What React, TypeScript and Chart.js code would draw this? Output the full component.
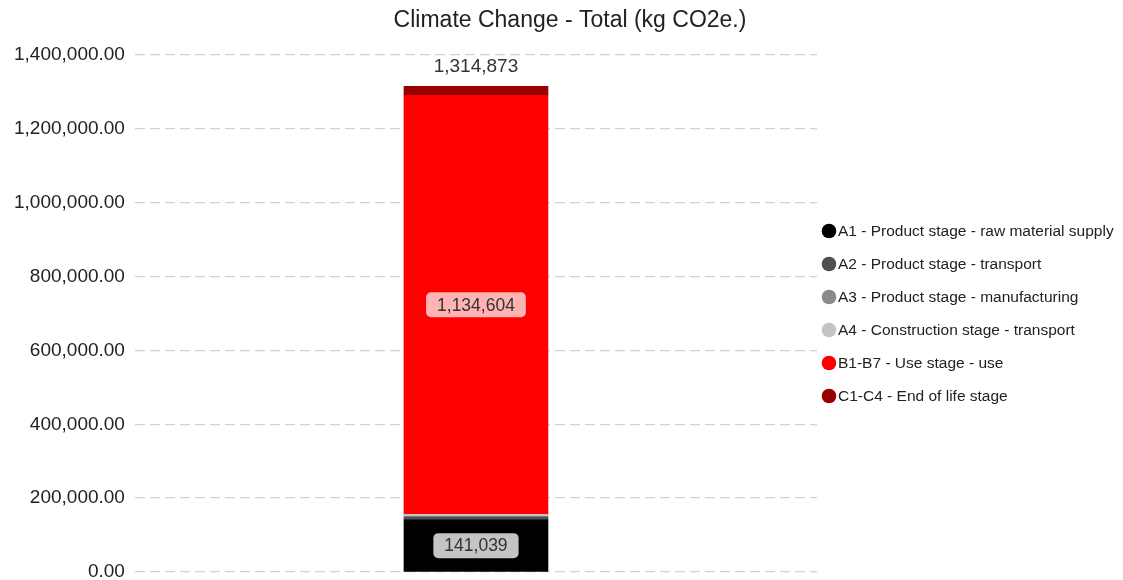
import React, { useEffect, useRef } from "react";
import { Chart, registerables } from "chart.js";

Chart.register(...registerables);

const chartTitle = "Climate Change - Total (kg CO2e.)";
const categories = ["Total"];
const seriesNames = [
  "A1 - Product stage - raw material supply",
  "A2 - Product stage - transport",
  "A3 - Product stage - manufacturing",
  "A4 - Construction stage - transport",
  "B1-B7 - Use stage - use",
  "C1-C4 - End of life stage",
];
const a1Values = [141039];
const a2Values = [7500];
const a3Values = [2500];
const a4Values = [5230];
const bValues = [1134604];
const cValues = [24000];
const totalLabel = ["1,314,873"];
const seriesColors = ["#000000", "#505050", "#8a8a8a", "#c4c4c4", "#ff0000", "#990000"];
const labelBoxColors = ["#c4c4c4", "#b0b0b0", "#cccccc", "#e0e0e0", "#ffb3b3", "#d08080"];
const yTicks = [0, 200000, 400000, 600000, 800000, 1000000, 1200000, 1400000];

const FONT = "'Liberation Sans', Arial, sans-serif";

const fmtInt = (v: number) => Math.round(v).toLocaleString("en-US");

const labelPlugin = {
  id: "segLabels",
  afterDatasetsDraw(chart: any) {
    const ctx = chart.ctx;
    ctx.save();
    ctx.textAlign = "center";
    ctx.textBaseline = "middle";
    let topY = Infinity;
    let topX = 0;
    chart.data.datasets.forEach((ds: any, di: number) => {
      const meta = chart.getDatasetMeta(di);
      meta.data.forEach((bar: any, i: number) => {
        const v = ds.data[i];
        const h = Math.abs(bar.base - bar.y);
        if (bar.y < topY) {
          topY = bar.y;
          topX = bar.x;
        }
        if (h < 30) return;
        ctx.font = `17.5px ${FONT}`;
        const text = fmtInt(v);
        const tw = ctx.measureText(text).width;
        const bw = tw + 22;
        const bh = 25;
        const cy = (bar.y + bar.base) / 2;
        ctx.fillStyle = labelBoxColors[di];
        ctx.beginPath();
        (ctx as any).roundRect(bar.x - bw / 2, cy - bh / 2, bw, bh, 5);
        ctx.fill();
        ctx.fillStyle = "#333333";
        ctx.fillText(text, bar.x, cy + 1);
      });
    });
    ctx.font = `19px ${FONT}`;
    ctx.fillStyle = "#333333";
    ctx.fillText(totalLabel[0], topX, topY - 20);
    ctx.restore();
  },
};

const legendPlugin = {
  id: "sideLegend",
  afterDraw(chart: any) {
    const ctx = chart.ctx;
    const area = chart.chartArea;
    ctx.save();
    // title
    ctx.font = `23px ${FONT}`;
    ctx.textAlign = "center";
    ctx.textBaseline = "middle";
    ctx.fillStyle = "#222222";
    ctx.fillText(chartTitle, 570, 21);
    // legend
    ctx.font = `15.5px ${FONT}`;
    ctx.textAlign = "left";
    const x0 = area.right + 12;
    const y0 = (area.top + area.bottom) / 2 - 2.5 * 33;
    chart.data.datasets.forEach((ds: any, i: number) => {
      const y = y0 + i * 33;
      ctx.fillStyle = ds.backgroundColor;
      ctx.beginPath();
      ctx.arc(x0, y, 7.3, 0, Math.PI * 2);
      ctx.fill();
      ctx.fillStyle = "#222222";
      ctx.fillText(ds.label, x0 + 9, y + 1);
    });
    ctx.restore();
  },
};

export default function App() {
  const ref = useRef<HTMLCanvasElement | null>(null);
  useEffect(() => {
    if (!ref.current) return;
    const values = [a1Values, a2Values, a3Values, a4Values, bValues, cValues];
    const chart = new Chart(ref.current, {
      type: "bar",
      data: {
        labels: categories,
        datasets: seriesNames.map((name, i) => ({
          label: name,
          data: values[i],
          backgroundColor: seriesColors[i],
          borderWidth: 0,
          barThickness: 144,
        })),
      },
      options: {
        animation: false,
        responsive: false,
        maintainAspectRatio: false,
        layout: { padding: { left: 14, right: 306, bottom: 8, top: 55 } },
        plugins: {
          title: { display: false },
          legend: { display: false },
          tooltip: { enabled: false },
        },
        scales: {
          x: {
            stacked: true,
            display: false,
          },
          y: {
            stacked: true,
            min: 0,
            max: 1400000,
            afterBuildTicks: (axis: any) => {
              axis.ticks = yTicks.map((v) => ({ value: v }));
            },
            border: { display: false, dash: [10, 5] },
            grid: {
              color: "#d2d2d2",
              lineWidth: 1.3,
              drawTicks: true,
              tickLength: 10,
              tickColor: "rgba(0,0,0,0)",
            },
            ticks: {
              padding: 0,
              color: "#222222",
              font: { family: FONT, size: 19, lineHeight: 0.8 },
              callback: (v: any) =>
                Number(v).toLocaleString("en-US", { minimumFractionDigits: 2, maximumFractionDigits: 2 }),
            },
          },
        },
      } as any,
      plugins: [labelPlugin, legendPlugin],
    });
    return () => chart.destroy();
  }, []);
  return (
    <div style={{ position: "fixed", left: 0, top: 0, width: 1123, height: 580, background: "#fff" }}>
      <canvas ref={ref} width={1123} height={580} />
    </div>
  );
}
